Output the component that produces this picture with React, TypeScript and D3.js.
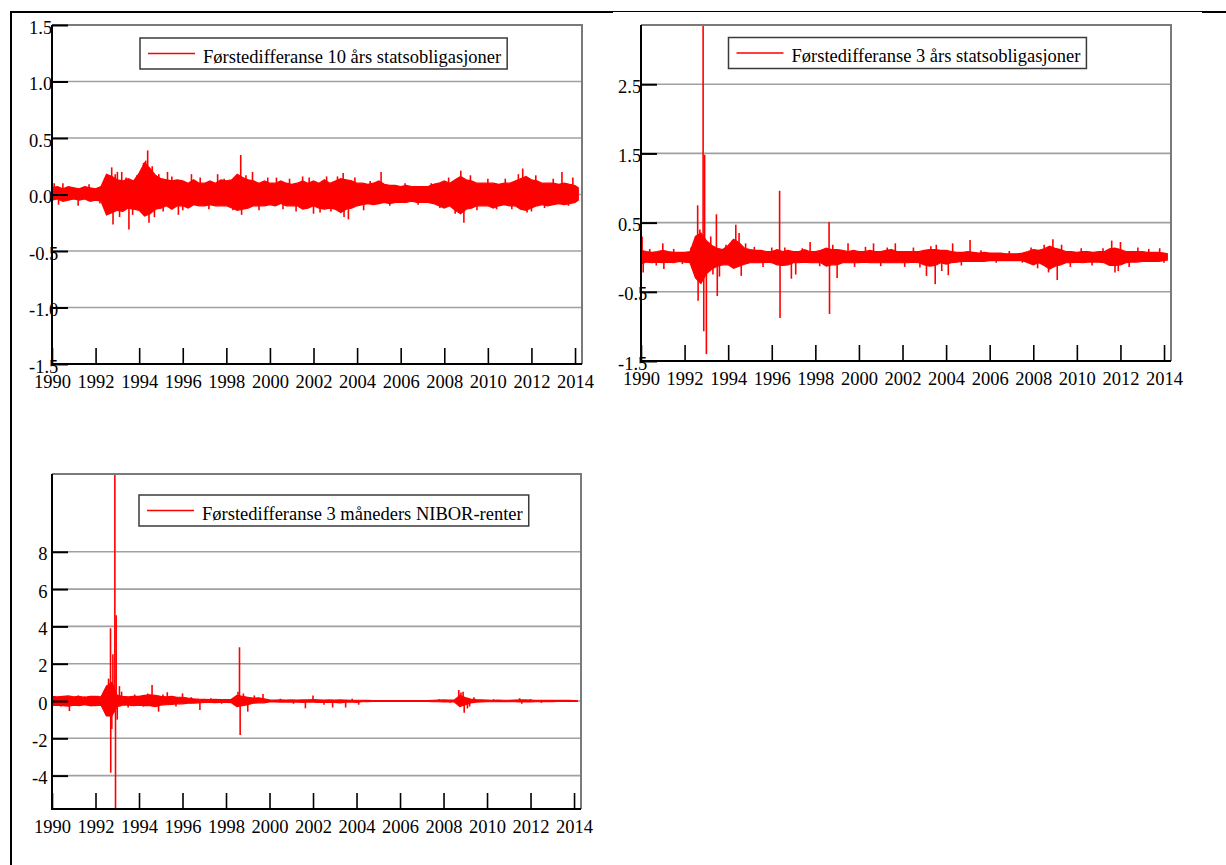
import { useRef, useEffect } from "react";
import * as d3 from "d3";

// quarterly grid 1990.00 .. 2014.00, plus the last observation
const dates = d3.range(97).map((i) => 1990 + i / 4).concat([2014.15]);

// 10 års statsobligasjoner: upper / lower edge of the dense band per quarter
const tenHigh = [
  0.06, 0.07, 0.05, 0.07, 0.06, 0.05, 0.07, 0.06, 0.05, 0.07, 0.18, 0.16,
  0.13, 0.12, 0.14, 0.12, 0.19, 0.28, 0.23, 0.17, 0.14, 0.13, 0.12, 0.13,
  0.12, 0.1, 0.13, 0.1, 0.1, 0.12, 0.1, 0.13, 0.12, 0.13, 0.18, 0.15,
  0.13, 0.12, 0.1, 0.12, 0.1, 0.1, 0.12, 0.1, 0.09, 0.1, 0.12, 0.1,
  0.12, 0.1, 0.13, 0.1, 0.12, 0.14, 0.13, 0.12, 0.1, 0.1, 0.09, 0.1,
  0.12, 0.09, 0.08, 0.08, 0.07, 0.08, 0.07, 0.07, 0.07, 0.07, 0.09, 0.1,
  0.12, 0.1, 0.13, 0.16, 0.13, 0.12, 0.1, 0.1, 0.1, 0.1, 0.09, 0.1,
  0.1, 0.12, 0.14, 0.16, 0.13, 0.12, 0.1, 0.1, 0.1, 0.09, 0.1, 0.09,
  0.08, 0.06,
];
const tenLow = [
  -0.05, -0.04, -0.06, -0.05, -0.04, -0.05, -0.04, -0.06, -0.05, -0.06, -0.18, -0.16,
  -0.14, -0.15, -0.12, -0.13, -0.14, -0.19, -0.17, -0.13, -0.12, -0.1, -0.13, -0.1,
  -0.1, -0.12, -0.09, -0.1, -0.1, -0.09, -0.1, -0.1, -0.1, -0.12, -0.14, -0.13,
  -0.12, -0.1, -0.1, -0.1, -0.09, -0.1, -0.08, -0.1, -0.1, -0.1, -0.13, -0.12,
  -0.1, -0.12, -0.13, -0.12, -0.13, -0.16, -0.13, -0.12, -0.1, -0.09, -0.08, -0.09,
  -0.08, -0.07, -0.08, -0.07, -0.07, -0.07, -0.06, -0.07, -0.07, -0.07, -0.08, -0.1,
  -0.12, -0.1, -0.14, -0.17, -0.13, -0.12, -0.1, -0.1, -0.1, -0.12, -0.1, -0.09,
  -0.1, -0.1, -0.13, -0.14, -0.12, -0.1, -0.09, -0.1, -0.09, -0.08, -0.09, -0.08,
  -0.07, -0.05,
];
const tenSpikes = [
  [1990.1, 0.1], [1990.3, -0.09], [1990.5, 0.1], [1991.2, -0.1], [1991.7, 0.09],
  [1992.2, -0.08], [1992.74, 0.24], [1992.8, -0.265], [1992.9, 0.18], [1993.0, 0.2],
  [1993.1, -0.2], [1993.2, 0.2], [1993.4, 0.15], [1993.53, -0.31], [1993.7, -0.18],
  [1993.9, 0.17], [1994.2, 0.28], [1994.3, 0.3], [1994.39, 0.39], [1994.45, -0.25],
  [1994.5, 0.22], [1994.6, 0.25], [1994.7, -0.2], [1994.9, 0.18], [1995.1, -0.15],
  [1995.3, 0.2], [1995.5, 0.16], [1995.8, -0.18], [1996.0, -0.14], [1996.4, 0.18],
  [1996.8, 0.15], [1997.2, -0.13], [1997.6, 0.18], [1997.9, 0.14], [1998.3, -0.14],
  [1998.66, 0.35], [1998.7, -0.18], [1998.9, 0.17], [1999.2, 0.2], [1999.5, -0.14],
  [1999.9, 0.15], [2000.3, 0.15], [2000.6, -0.13], [2000.9, 0.14], [2001.2, -0.15],
  [2001.5, 0.16], [2001.8, 0.15], [2002.0, -0.17], [2002.3, -0.16], [2002.6, 0.16],
  [2002.8, -0.15], [2003.1, 0.16], [2003.36, 0.19], [2003.4, -0.2], [2003.6, -0.22],
  [2003.9, 0.15], [2004.3, -0.14], [2004.6, 0.12], [2005.1, 0.2], [2005.5, -0.1],
  [2006.2, 0.1], [2006.8, -0.09], [2007.4, 0.1], [2007.8, -0.12], [2008.2, 0.15],
  [2008.5, -0.17], [2008.76, 0.21], [2008.9, -0.25], [2009.2, 0.17], [2009.5, -0.14],
  [2010.0, 0.14], [2010.4, -0.13], [2010.8, 0.14], [2011.1, -0.13], [2011.4, 0.18],
  [2011.6, 0.23], [2011.8, -0.16], [2012.0, -0.15], [2012.2, 0.17], [2012.6, -0.12],
  [2013.0, 0.14], [2013.4, 0.2], [2013.7, -0.1], [2013.9, 0.15],
];

// 3 års statsobligasjoner
const threeHigh = [
  0.1, 0.08, 0.07, 0.08, 0.1, 0.08, 0.07, 0.07, 0.07, 0.08, 0.3, 0.35,
  0.24, 0.17, 0.13, 0.11, 0.17, 0.26, 0.21, 0.13, 0.11, 0.1, 0.1, 0.08,
  0.08, 0.11, 0.08, 0.1, 0.08, 0.08, 0.11, 0.08, 0.08, 0.1, 0.13, 0.11,
  0.11, 0.1, 0.08, 0.1, 0.08, 0.08, 0.1, 0.08, 0.08, 0.1, 0.11, 0.08,
  0.08, 0.08, 0.08, 0.08, 0.1, 0.11, 0.11, 0.1, 0.1, 0.08, 0.07, 0.07,
  0.08, 0.07, 0.06, 0.07, 0.06, 0.06, 0.06, 0.05, 0.05, 0.05, 0.06, 0.08,
  0.11, 0.1, 0.12, 0.16, 0.13, 0.11, 0.08, 0.08, 0.07, 0.08, 0.08, 0.07,
  0.08, 0.08, 0.12, 0.13, 0.11, 0.08, 0.08, 0.08, 0.08, 0.07, 0.07, 0.07,
  0.06, 0.05,
];
const threeLow = [
  -0.1, -0.07, -0.08, -0.07, -0.08, -0.07, -0.08, -0.06, -0.07, -0.08, -0.3, -0.38,
  -0.24, -0.17, -0.13, -0.11, -0.11, -0.16, -0.13, -0.1, -0.08, -0.08, -0.08, -0.07,
  -0.08, -0.11, -0.12, -0.11, -0.08, -0.08, -0.07, -0.08, -0.08, -0.08, -0.13, -0.11,
  -0.11, -0.08, -0.08, -0.08, -0.08, -0.07, -0.08, -0.08, -0.08, -0.08, -0.08, -0.08,
  -0.08, -0.08, -0.07, -0.08, -0.11, -0.13, -0.12, -0.08, -0.1, -0.08, -0.07, -0.06,
  -0.06, -0.06, -0.06, -0.06, -0.05, -0.05, -0.05, -0.05, -0.05, -0.05, -0.05, -0.08,
  -0.11, -0.08, -0.12, -0.17, -0.13, -0.11, -0.08, -0.08, -0.07, -0.08, -0.07, -0.07,
  -0.07, -0.08, -0.12, -0.12, -0.11, -0.08, -0.07, -0.07, -0.06, -0.06, -0.06, -0.06,
  -0.05, -0.04,
];
const threeSpikes = [
  [1990.05, 0.3], [1990.1, -0.22], [1990.4, 0.12], [1990.7, -0.12], [1991.0, 0.2],
  [1991.05, -0.17], [1991.5, 0.12], [1991.9, -0.1], [1992.3, 0.14], [1992.6, 0.75],
  [1992.62, -0.63], [1992.7, 0.4], [1992.85, 3.36], [1992.88, -1.07], [1992.92, 1.48],
  [1993.0, -1.4], [1993.2, 0.3], [1993.3, -0.25], [1993.46, 0.62], [1993.5, -0.56],
  [1993.6, -0.28], [1993.9, 0.18], [1994.2, 0.25], [1994.35, 0.47], [1994.5, 0.35],
  [1994.6, -0.27], [1994.8, 0.2], [1995.2, 0.15], [1995.6, -0.14], [1996.0, 0.14],
  [1996.36, 0.96], [1996.38, -0.88], [1996.6, 0.14], [1996.9, -0.31], [1997.1, -0.25],
  [1997.4, 0.13], [1997.76, 0.22], [1998.2, -0.13], [1998.63, 0.51], [1998.65, -0.82],
  [1998.8, 0.18], [1999.0, -0.3], [1999.5, 0.2], [1999.8, -0.14], [2000.3, 0.15],
  [2000.67, 0.2], [2001.0, -0.13], [2001.3, 0.14], [2001.67, 0.2], [2002.1, -0.14],
  [2002.5, 0.14], [2002.8, -0.15], [2003.1, -0.27], [2003.3, 0.16], [2003.5, -0.39],
  [2003.55, 0.18], [2003.8, -0.2], [2004.1, -0.26], [2004.3, 0.2], [2004.7, -0.12],
  [2005.1, 0.25], [2005.6, 0.1], [2006.3, -0.08], [2006.9, 0.09], [2007.5, -0.08],
  [2007.9, 0.14], [2008.2, -0.16], [2008.5, 0.18], [2008.7, -0.22], [2008.9, 0.26],
  [2009.1, -0.33], [2009.3, 0.18], [2009.7, -0.14], [2010.2, 0.13], [2010.7, -0.12],
  [2011.2, 0.13], [2011.6, 0.24], [2011.75, -0.22], [2011.9, -0.2], [2012.0, 0.22],
  [2012.4, -0.14], [2012.8, 0.14], [2013.3, 0.12], [2013.8, 0.13], [2014.0, -0.08],
];

// 3 måneders NIBOR-renter
const niborHigh = [
  0.25, 0.22, 0.25, 0.27, 0.22, 0.25, 0.2, 0.25, 0.25, 0.22, 0.8, 1.0,
  0.3, 0.25, 0.22, 0.25, 0.25, 0.3, 0.33, 0.3, 0.25, 0.22, 0.25, 0.2,
  0.2, 0.15, 0.12, 0.1, 0.09, 0.08, 0.09, 0.08, 0.08, 0.09, 0.3, 0.25,
  0.2, 0.15, 0.17, 0.12, 0.06, 0.05, 0.06, 0.05, 0.06, 0.05, 0.06, 0.06,
  0.07, 0.06, 0.05, 0.06, 0.05, 0.06, 0.05, 0.04, 0.04, 0.03, 0.03, 0.02,
  0.02, 0.02, 0.02, 0.02, 0.02, 0.02, 0.02, 0.02, 0.02, 0.02, 0.04, 0.05,
  0.06, 0.05, 0.06, 0.3, 0.18, 0.1, 0.07, 0.06, 0.05, 0.04, 0.05, 0.04,
  0.04, 0.05, 0.06, 0.06, 0.05, 0.04, 0.03, 0.03, 0.03, 0.03, 0.03, 0.03,
  0.02, 0.02,
];
const niborLow = [
  -0.25, -0.22, -0.25, -0.27, -0.22, -0.25, -0.2, -0.25, -0.25, -0.22, -0.8, -0.8,
  -0.3, -0.22, -0.22, -0.25, -0.22, -0.25, -0.25, -0.3, -0.22, -0.2, -0.18, -0.15,
  -0.15, -0.12, -0.12, -0.1, -0.08, -0.08, -0.09, -0.08, -0.08, -0.09, -0.3, -0.25,
  -0.2, -0.12, -0.1, -0.1, -0.05, -0.05, -0.06, -0.05, -0.06, -0.05, -0.08, -0.06,
  -0.06, -0.08, -0.06, -0.08, -0.07, -0.1, -0.06, -0.05, -0.08, -0.04, -0.03, -0.02,
  -0.02, -0.02, -0.02, -0.02, -0.02, -0.02, -0.02, -0.02, -0.02, -0.02, -0.03, -0.04,
  -0.05, -0.04, -0.05, -0.3, -0.2, -0.1, -0.06, -0.05, -0.04, -0.04, -0.03, -0.03,
  -0.03, -0.04, -0.05, -0.05, -0.05, -0.04, -0.03, -0.03, -0.03, -0.02, -0.02, -0.02,
  -0.02, -0.02,
];
const niborSpikes = [
  [1990.1, 0.25], [1990.4, -0.3], [1990.8, -0.54], [1991.2, 0.3], [1991.5, 0.25],
  [1991.8, -0.28], [1992.1, 0.28], [1992.3, 0.3], [1992.5, -0.3], [1992.6, 1.2],
  [1992.69, 3.9], [1992.7, -3.84], [1992.75, -1.5], [1992.8, 2.5], [1992.89, 12.17],
  [1992.92, -5.79], [1992.95, 4.6], [1993.0, -1.0], [1993.1, 0.8], [1993.2, 0.5],
  [1993.5, -0.35], [1993.8, 0.35], [1994.2, -0.3], [1994.4, 0.4], [1994.6, 0.86],
  [1994.9, -0.57], [1995.1, 0.35], [1995.3, 0.47], [1995.7, -0.3], [1996.0, 0.41],
  [1996.4, 0.2], [1996.8, -0.48], [1997.3, 0.15], [1997.8, -0.15], [1998.3, 0.15],
  [1998.55, 0.5], [1998.62, 2.88], [1998.65, -1.82], [1998.8, 0.4], [1999.0, -0.57],
  [1999.3, 0.3], [1999.7, 0.37], [2000.5, 0.12], [2001.1, -0.15], [2001.65, -0.39],
  [2002.0, 0.3], [2002.5, -0.2], [2002.9, -0.35], [2003.5, -0.35], [2003.8, 0.12],
  [2004.1, -0.2], [2007.8, 0.1], [2008.3, -0.1], [2008.7, 0.59], [2008.8, 0.45],
  [2008.9, 0.5], [2008.95, -0.63], [2009.1, -0.4], [2009.2, -0.3], [2009.4, 0.2],
  [2010.3, 0.1], [2011.5, 0.15], [2011.6, -0.15], [2012.0, 0.1], [2012.5, -0.1],
];

const xTicks = d3.range(1990, 2015, 2);
const tenTicks = [-1.5, -1.0, -0.5, 0, 0.5, 1.0, 1.5];
const threeTicks = [-1.5, -0.5, 0.5, 1.5, 2.5];
const niborTicks = [-4, -2, 0, 2, 4, 6, 8];

const FONT = "'Liberation Serif', 'Times New Roman', serif";
const FONT_SIZE = "18.5px";
const RED = "#ff0000";

const panels = [
  {
    key: "ten",
    label: "Førstedifferanse 10 års statsobligasjoner",
    high: tenHigh, low: tenLow, spikes: tenSpikes,
    yDomain: [-1.5, 1.5], yTicks: tenTicks, fmt: d3.format(".1f"), labelAlign: "start",
    frame: { left: 52, top: 25, right: 582, bottom: 364 },
    legend: { x: 140, y: 38 },
  },
  {
    key: "three",
    label: "Førstedifferanse 3 års statsobligasjoner",
    high: threeHigh, low: threeLow, spikes: threeSpikes,
    yDomain: [-1.5, 3.356], yTicks: threeTicks, fmt: d3.format(".1f"), labelAlign: "start",
    frame: { left: 641, top: 25, right: 1171, bottom: 361 },
    legend: { x: 728.5, y: 37.5 },
  },
  {
    key: "nibor",
    label: "Førstedifferanse 3 måneders NIBOR-renter",
    high: niborHigh, low: niborLow, spikes: niborSpikes,
    yDomain: [-5.79, 12.17], yTicks: niborTicks, fmt: d3.format("d"), labelAlign: "end",
    frame: { left: 52, top: 474, right: 581, bottom: 809 },
    legend: { x: 139, y: 495 },
  },
];

function drawPanel(svg: any, p: any) {
  const { left, top, right, bottom } = p.frame;
  const x = d3.scaleLinear().domain([1990, 2014.32]).range([left, right]);
  const y = d3.scaleLinear().domain(p.yDomain).range([bottom, top]);
  const g = svg.append("g").attr("font-family", FONT).attr("font-size", FONT_SIZE);

  const clipId = `clip-${p.key}`;
  g.append("clipPath").attr("id", clipId)
    .append("rect")
    .attr("x", left).attr("y", top)
    .attr("width", right - left).attr("height", bottom - top);

  // horizontal grid
  g.append("g")
    .selectAll("line")
    .data(p.yTicks)
    .join("line")
    .attr("x1", left).attr("x2", right)
    .attr("y1", (d: number) => y(d)).attr("y2", (d: number) => y(d))
    .attr("stroke", "#a0a0a0")
    .attr("stroke-width", 1.6);

  // series: dense band between the quarterly edges, needles on top
  const band = dates.map((t, i) => ({ t, hi: p.high[i], lo: p.low[i] }));
  const area = d3.area<any>()
    .x((d) => x(d.t))
    .y0((d) => y(d.lo))
    .y1((d) => y(d.hi));
  g.append("path")
    .datum(band)
    .attr("clip-path", `url(#${clipId})`)
    .attr("d", area)
    .attr("fill", RED)
    .attr("stroke", RED)
    .attr("stroke-width", 1.2);

  g.append("g")
    .attr("clip-path", `url(#${clipId})`)
    .selectAll("line")
    .data(p.spikes)
    .join("line")
    .attr("x1", (d: number[]) => x(d[0])).attr("x2", (d: number[]) => x(d[0]))
    .attr("y1", y(0)).attr("y2", (d: number[]) => y(d[1]))
    .attr("stroke", RED)
    .attr("stroke-width", 1.6);

  // frame: top/right grey, left/bottom black
  g.append("path")
    .attr("d", `M${left},${top}H${right}V${bottom}`)
    .attr("fill", "none").attr("stroke", "#7a7a7a").attr("stroke-width", 2);

  // y axis, ticks pointing inward
  const yAxisG = g.append("g")
    .attr("transform", `translate(${left},0)`)
    .call(d3.axisLeft(y).tickValues(p.yTicks).tickSize(-16).tickFormat(p.fmt));
  yAxisG.attr("font-family", FONT).attr("font-size", FONT_SIZE);
  yAxisG.select(".domain").remove();
  yAxisG.selectAll(".tick line").attr("stroke", "#000").attr("stroke-width", 2);
  yAxisG.selectAll("text")
    .attr("fill", "#000")
    .attr("text-anchor", p.labelAlign)
    .attr("x", p.labelAlign === "start" ? -23 : -4.5)
    .attr("dy", null).attr("y", 8)
    .text((d: number) => p.fmt(d).replace("−", "-"));

  // x axis
  const xAxisG = g.append("g")
    .attr("transform", `translate(0,${bottom})`)
    .call(d3.axisBottom(x).tickValues(xTicks).tickSize(-16).tickFormat(d3.format("d")));
  xAxisG.attr("font-family", FONT).attr("font-size", FONT_SIZE);
  xAxisG.select(".domain").remove();
  xAxisG.selectAll(".tick line").attr("stroke", "#000").attr("stroke-width", 1.6);
  xAxisG.selectAll("text")
    .attr("fill", "#000")
    .attr("dy", null).attr("y", 24);

  g.append("path")
    .attr("d", `M${left},${top}V${bottom}H${right}`)
    .attr("fill", "none").attr("stroke", "#000").attr("stroke-width", 2);

  // legend
  const lg = g.append("g").attr("transform", `translate(${p.legend.x},${p.legend.y})`);
  const box = lg.append("rect")
    .attr("x", 0).attr("y", 0).attr("height", 31)
    .attr("fill", "#fff").attr("stroke", "#3a3a3a").attr("stroke-width", 1.5);
  lg.append("line")
    .attr("x1", 8).attr("x2", 55).attr("y1", 15.5).attr("y2", 15.5)
    .attr("stroke", RED).attr("stroke-width", 1.5);
  const txt = lg.append("text")
    .attr("x", 63).attr("y", 24.5)
    .attr("fill", "#000")
    .text(p.label);
  const w = (txt.node() as SVGTextElement).getComputedTextLength();
  box.attr("width", 63 + w + 6);
}

export default function App() {
  const svgRef = useRef<SVGSVGElement>(null);

  useEffect(() => {
    const svg = d3.select(svgRef.current);
    svg.selectAll("*").remove();

    // page frame lines
    svg.append("line").attr("x1", 10).attr("x2", 613).attr("y1", 12).attr("y2", 12)
      .attr("stroke", "#000").attr("stroke-width", 2);
    svg.append("line").attr("x1", 613).attr("x2", 1202).attr("y1", 11.5).attr("y2", 11.5)
      .attr("stroke", "#000").attr("stroke-width", 1);
    svg.append("line").attr("x1", 1202).attr("x2", 1226).attr("y1", 12).attr("y2", 12)
      .attr("stroke", "#000").attr("stroke-width", 2);
    svg.append("line").attr("x1", 11).attr("x2", 11).attr("y1", 11).attr("y2", 865)
      .attr("stroke", "#000").attr("stroke-width", 2);

    panels.forEach((p) => drawPanel(svg, p));
  }, []);

  return (
    <svg
      ref={svgRef}
      width={1226}
      height={865}
      style={{ position: "absolute", left: 0, top: 0, background: "#fff" }}
    />
  );
}
